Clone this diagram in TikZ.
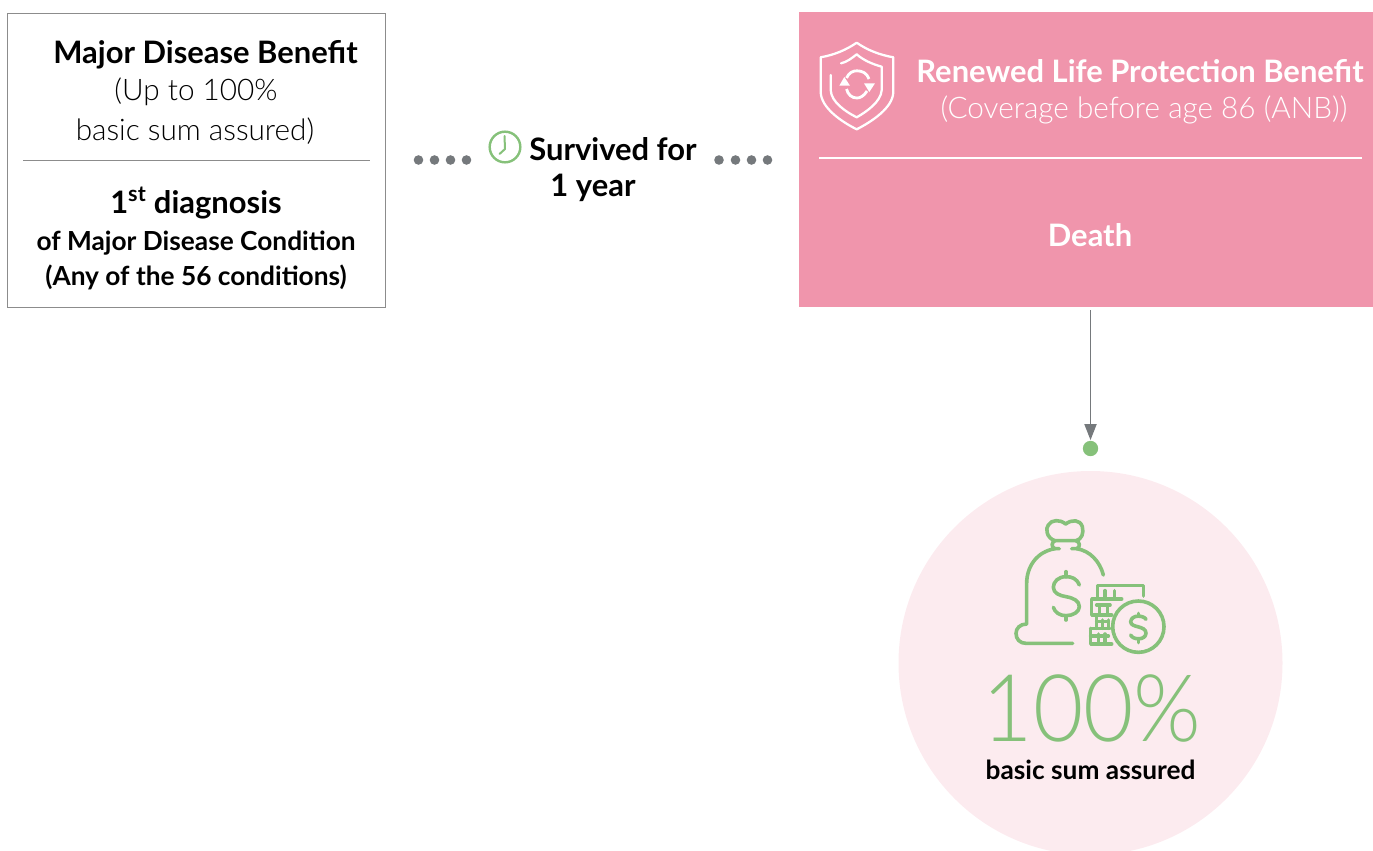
\documentclass[tikz,border=0pt]{standalone}
\usepackage{fontspec}
\setmainfont{Lato}
\newfontfamily\thinf{Lato Light}
\definecolor{pinkbox}{HTML}{F095AC}
\definecolor{pinkpale}{HTML}{FCEBEF}
\definecolor{leaf}{HTML}{86C17A}
\definecolor{slate}{HTML}{75797C}
\tikzset{
  lbl/.style={inner sep=0pt,anchor=center,align=center},
  bigbold/.style={lbl,font=\fontsize{23.2pt}{27pt}\selectfont\bfseries},
  smallbold/.style={lbl,font=\fontsize{19.7pt}{24pt}\selectfont\bfseries},
  light/.style={lbl,font=\thinf\fontsize{22.3pt}{26pt}\selectfont},
  dotm/.style={circle,fill=slate,minimum size=7.2pt,inner sep=0pt},
  iconw/.style={draw=white,line width=1.7pt,line cap=round,line join=round},
  icong/.style={draw=leaf,line width=2.7pt,line cap=round,line join=round},
}
\begin{document}
\begin{tikzpicture}[x=0.75pt,y=-0.75pt]
\useasboundingbox (0,0) rectangle (1373,850);
\clip (0,0) rectangle (1373,850);
% left box
\node[draw=black!45,line width=0.7pt,minimum width=283.5pt,minimum height=220.5pt,inner sep=0pt] (leftbox) at (196,160) {};
\coordinate (lr1) at (23,160);
\coordinate (lr2) at (370,160);
\draw[black!45,line width=0.7pt] (lr1) -- (lr2);
\node[bigbold] (t1) at (205.5,55) {Major Disease Benefit};
\node[light] (t2) at (196,92) {(Up to 100\%};
\node[light] (t3) at (195,131) {basic sum assured)};
\node[bigbold] (t4) at (196,203) {1\textsuperscript{st} diagnosis};
\node[smallbold] (t5) at (196,243) {of Major Disease Condition};
\node[smallbold] (t6) at (196,277) {(Any of the 56 conditions)};
% dots
\foreach \i/\x in {1/418.5,2/434.5,3/450.5,4/466.5}{\node[dotm] (dl\i) at (\x,160) {};}
\foreach \i/\x in {1/719,2/735.5,3/751.5,4/767.5}{\node[dotm] (dr\i) at (\x,160) {};}
% clock
\node[circle,draw=leaf,line width=1.8pt,minimum size=23pt,inner sep=0pt] (clock) at (505,147) {};
\draw[leaf,line width=1.5pt,line cap=round,line join=round] (504.5,136) -- (505,149) -- (499.5,154);
\node[bigbold] (t7) at (613,149) {Survived for};
\node[bigbold] (t8) at (593,187.5) {1 year};
% pink box
\node[fill=pinkbox,minimum width=430pt,minimum height=221.25pt,inner sep=0pt] (pbox) at (1086,159) {};
\coordinate (pr1) at (819,158);
\coordinate (pr2) at (1362,158);
\draw[white,line width=1pt] (pr1) -- (pr2);
\node[bigbold,text=white] (t9) at (1140,71.5) {Renewed Life Protection Benefit};
\node[light,text=white] (t10) at (1144,109.5) {(Coverage before age 86 (ANB))};
\node[bigbold,text=white] (t11) at (1090,235.5) {Death};
% shield
\draw[iconw] (856.7,42.7) .. controls (846,50) and (834,55) .. (820.7,57.3) -- (820.7,92) .. controls (821,108) and (842,122) .. (856.7,129.3) .. controls (871,122) and (893,108) .. (893.3,92) -- (893.3,57.3) .. controls (880,55) and (867,50) .. (856.7,42.7);
\draw[iconw] (841,63.3) .. controls (847,62) and (852,58) .. (856.7,54.3) .. controls (863,60) and (872,64) .. (881.7,66.7) -- (881.7,90) .. controls (881,102) and (866,112) .. (856.7,117.3) .. controls (846,112) and (831,102) .. (830.7,90) -- (830.7,75);
\draw[white,line width=2.1pt] (846.5,78) .. controls (849,72.5) and (853,70.8) .. (857,70.8) .. controls (862,70.8) and (867,73) .. (869,79);
\draw[white,line width=2.1pt] (867,91) .. controls (864,96) and (860,98) .. (857,98) .. controls (852,98) and (848,95) .. (846.5,89);
\fill[white] (839.3,85.7) -- (850,85.7) -- (844.3,77) -- cycle;
\fill[white] (864,83.3) -- (875,83.3) -- (869.3,92) -- cycle;
% arrow + dot
\node[circle,fill=leaf,minimum size=11.5pt,inner sep=0pt] (gdot) at (1090.5,448.5) {};
\coordinate (astart) at (1090.5,310);
\coordinate (aend) at (1090.5,440);
\draw[slate,line width=1pt] (astart) -- (1090.5,426);
\fill[slate] (1084.2,424) -- (1096.8,424) -- (aend) -- cycle;
% circle
\node[circle,fill=pinkpale,minimum size=288pt,inner sep=0pt] (bigc) at (1090.5,663) {};
% money bag icon
\begin{scope}[shift={(1000,510)},x=0.25pt,y=-0.25pt]
\draw[icong] (165,92) .. controls (140,85) and (135,55) .. (145,45) .. controls (155,28) and (180,28) .. (197,42) .. controls (215,28) and (240,28) .. (247,50) .. controls (252,70) and (245,88) .. (228,92) -- (165,92);
\draw[icong] (165,92) .. controls (155,95) and (152,112) .. (165,116) -- (178,116);
\draw[icong] (228,92) .. controls (240,95) and (242,112) .. (230,116) -- (215,116);
\draw[icong] (165,116) .. controls (110,125) and (80,170) .. (80,220) -- (80,342) .. controls (60,342) and (48,355) .. (48,370) .. controls (48,388) and (60,400) .. (78,400) -- (218,400);
\draw[icong] (230,116) .. controls (270,122) and (300,155) .. (310,195);
\draw[icong] (238,225) .. controls (230,205) and (215,200) .. (198,200) .. controls (175,200) and (160,215) .. (160,232) .. controls (160,250) and (180,257) .. (198,260) .. controls (220,264) and (238,272) .. (238,290) .. controls (238,305) and (220,317) .. (198,317) .. controls (180,317) and (165,308) .. (160,292);
\draw[icong] (198,185) -- (198,200) (198,317) -- (198,330);
\draw[icong] (292,267) -- (292,227) -- (430,227) -- (430,258);
\draw[icong] (315,242) -- (315,267) (343,242) -- (343,267);
\draw[icong] (365,267) -- (275,267) -- (275,315) -- (335,315);
\draw[icong] (298,285) -- (298,315) (322,285) -- (322,315) (290,285) -- (330,285);
\draw[icong] (290,318) -- (290,355) (272,355) -- (330,355);
\draw[icong] (308,330) -- (308,355) (325,330) -- (325,355) (290,335) -- (325,335);
\draw[icong] (272,355) -- (272,402) -- (335,402);
\draw[icong] (295,372) -- (295,402) (315,372) -- (315,402) (272,378) -- (325,378);
\node[circle,draw=leaf,line width=2.7pt,minimum size=38.5pt,inner sep=0pt,fill=pinkpale] (coin) at (415,350) {};
\draw[icong] (438,328) .. controls (432,316) and (395,312) .. (392,335) .. controls (392,355) and (438,345) .. (438,370) .. controls (436,392) and (398,390) .. (392,375);
\draw[icong] (415,310) -- (415,318) (415,390) -- (415,398);
\end{scope}
\node[lbl,text=leaf,font=\thinf\fontsize{70pt}{72pt}\selectfont] (pct) at (1092,708) {\scalebox{0.93}[1]{100\%}};
\node[smallbold] (t12) at (1090.5,769.5) {basic sum assured};
\end{tikzpicture}
\end{document}
